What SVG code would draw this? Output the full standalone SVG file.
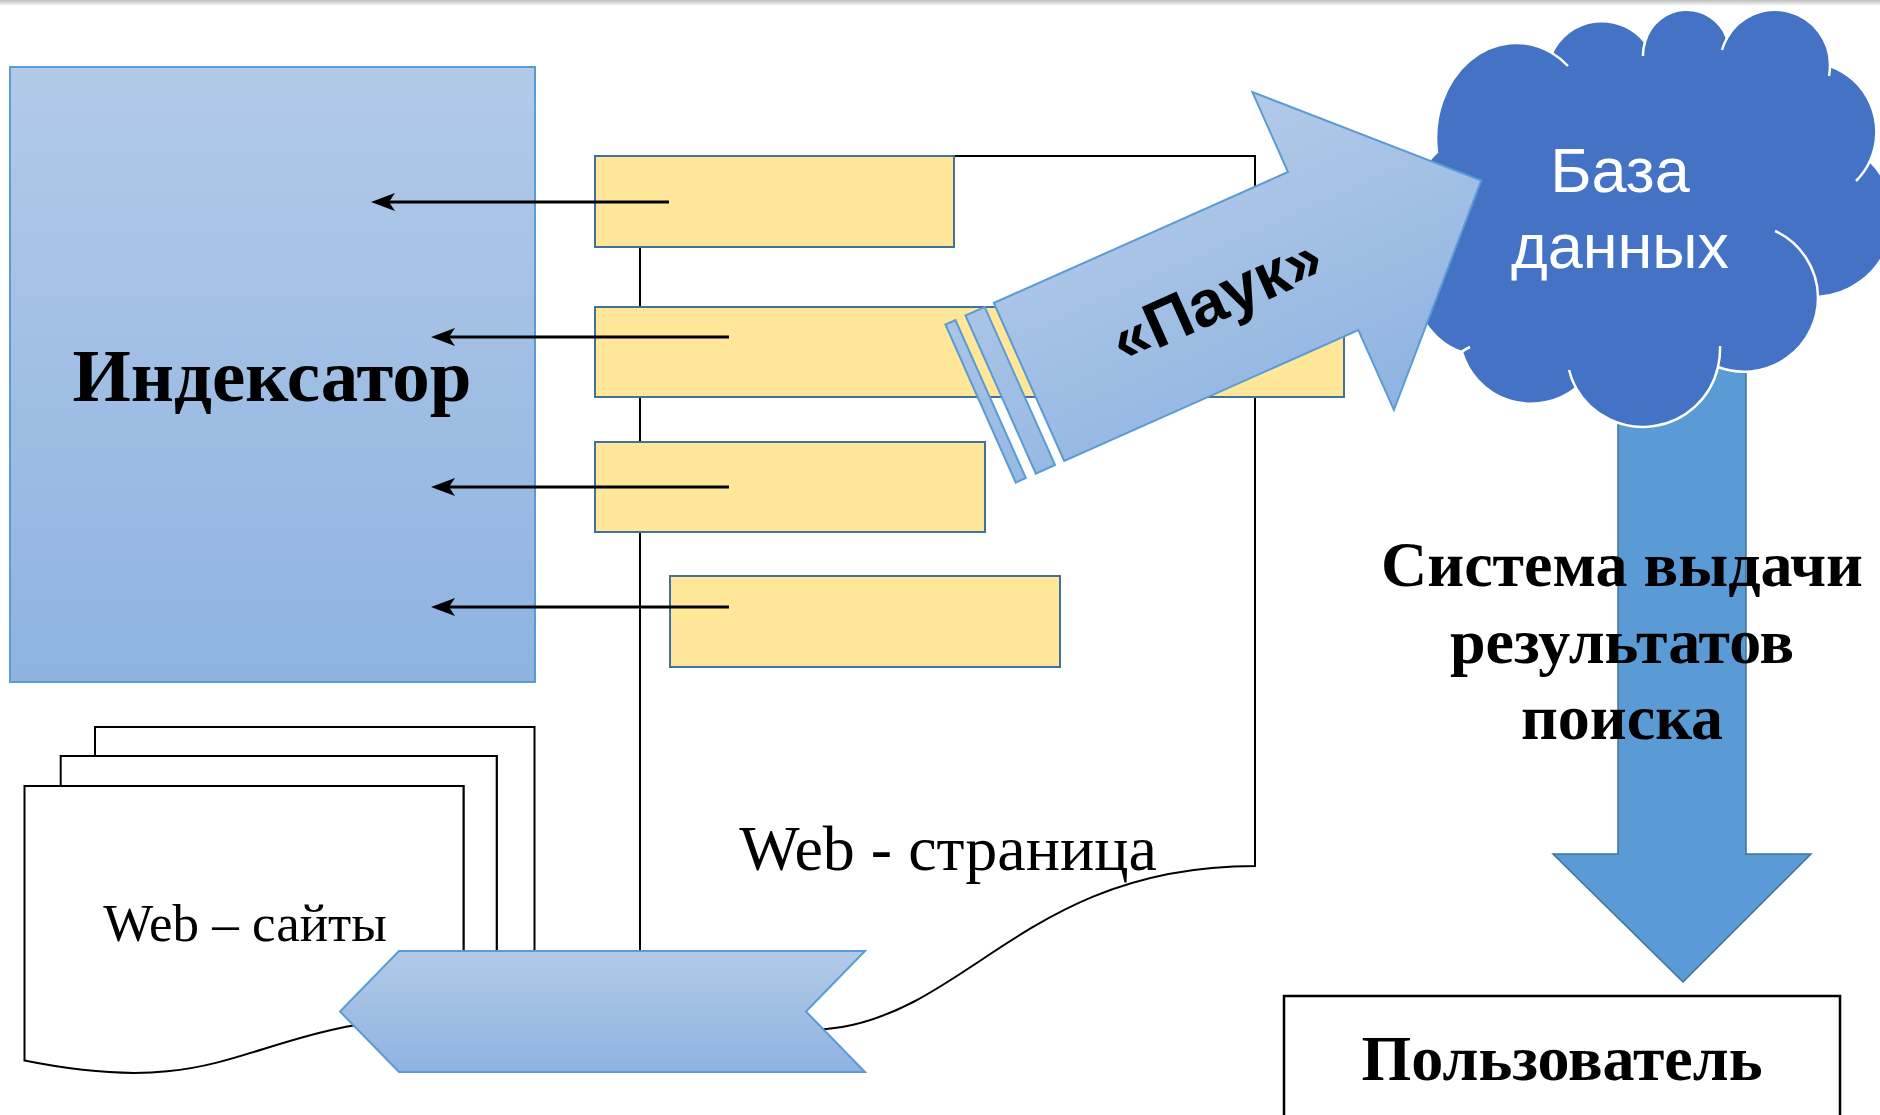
<svg xmlns="http://www.w3.org/2000/svg" width="1880" height="1115" viewBox="0 0 1880 1115">
<defs>
<style>
.ln{fill:none;stroke:#000;stroke-width:2}
.box{fill:#FFE699;stroke:#41719C;stroke-width:2}
.doc{fill:#fff;stroke:#000;stroke-width:2}
.arr{stroke:#000;stroke-width:3;fill:none}
.serif{font-family:"Liberation Serif","Times New Roman",serif;fill:#000}
.sans{font-family:"Liberation Sans",Arial,sans-serif}
.inner{fill:none;stroke:#fff;stroke-width:2.5}
</style>
<linearGradient id="gb" x1="0" y1="0" x2="0" y2="1">
<stop offset="0" stop-color="#B2CAE8"/>
<stop offset="1" stop-color="#8EB3E1"/>
</linearGradient>
<linearGradient id="gs" gradientUnits="userSpaceOnUse" x1="0" y1="-174" x2="0" y2="174">
<stop offset="0" stop-color="#B2CAE8"/>
<stop offset="1" stop-color="#8EB3E1"/>
</linearGradient>
<linearGradient id="gtop" x1="0" y1="0" x2="0" y2="1">
<stop offset="0" stop-color="#BDBDBD"/>
<stop offset="1" stop-color="#FFFFFF"/>
</linearGradient>
<marker id="ah" markerUnits="userSpaceOnUse" markerWidth="30" markerHeight="22" viewBox="-28 -11 30 22" refX="-12" refY="0" orient="auto">
<path d="M0,0 L-24,-9 L-18,0 L-24,9 Z" fill="#000"/>
</marker>
</defs>
<rect x="0" y="0" width="1880" height="6" fill="url(#gtop)"/>

<g id="indexator">
<rect x="10" y="67" width="525" height="615" fill="url(#gb)" stroke="#5B9BD5" stroke-width="2"/>
<text class="serif" x="272" y="401" font-size="75" font-weight="bold" text-anchor="middle">Индексатор</text>
</g>

<g id="web-page">
<path class="doc" d="M640,156 L1255,156 L1255,866 C947.5,866 947.5,1136.5 640,983 Z"/>
<text class="serif" x="948" y="870" font-size="64" text-anchor="middle">Web - страница</text>
</g>

<g id="blocks">
<rect class="box" x="595" y="156" width="359" height="91"/>
<rect class="box" x="595" y="307" width="749" height="90"/>
<rect class="box" x="595" y="442" width="390" height="90"/>
<rect class="box" x="670" y="576" width="390" height="91"/>
</g>

<g id="connectors">
<line class="arr" x1="669" y1="202" x2="383" y2="202" marker-end="url(#ah)"/>
<line class="arr" x1="729" y1="337" x2="443" y2="337" marker-end="url(#ah)"/>
<line class="arr" x1="729" y1="487" x2="443" y2="487" marker-end="url(#ah)"/>
<line class="arr" x1="729" y1="607" x2="443" y2="607" marker-end="url(#ah)"/>
</g>

<g id="web-sites">
<path class="doc" d="M95,756 V727 H534.5 V958 C515,958 496.7,959 496.7,959 V756 Z"/>
<path class="doc" d="M60.7,786 V756 H496.7 V988 C478,988 463.5,989.4 463.5,989.4 V786 Z"/>
<path class="doc" d="M24.5,1060.6 C244,1104.9 244,1016.2 463.5,1016.2 V786 H24.5 Z"/>
<text class="serif" x="245" y="941" font-size="53" text-anchor="middle">Web – сайты</text>
</g>

<g id="chevron">
<polygon points="399,951 865,951 806,1011.5 865,1072 399,1072 340,1011.5" fill="url(#gb)" stroke="#5B9BD5" stroke-width="2"/>
</g>

<g id="output-arrow">
<polygon points="1618,360 1746,360 1746,854 1811,854 1683,982 1553,854 1618,854" fill="#5B9BD5" stroke="#41719C" stroke-width="1.5"/>
</g>

<g id="database">
<path d="M1437,152 A80,95 0 0 1 1552,53 A55,55 0 0 1 1645,42 A43,43 0 0 1 1727,38 A55,55 0 0 1 1830,66 A70,70 0 0 1 1870,161 A80,80 0 0 1 1818,297 A74,74 0 0 1 1718,367 A77,77 0 0 1 1576,388 A72,72 0 0 1 1462,352 A75,110 0 0 1 1437,152 Z" fill="#4472C4" stroke="#fff" stroke-width="2.5"/>
<path class="inner" d="M1552,53 A80,95 0 0 1 1568,66 M1643,56 A43,43 0 0 1 1645,42 M1722,50 A55,55 0 0 1 1727,38 M1830,66 A55,55 0 0 1 1829,76 M1870,161 A70,70 0 0 1 1856,181 M1775,231 A74,74 0 0 1 1818,297 M1720,346 A77,77 0 0 1 1718,367 M1576,388 A77,77 0 0 1 1569,370 M1460,353 A60,60 0 0 1 1470,347"/>
<text class="sans" x="1620" y="192" font-size="63" fill="#fff" text-anchor="middle">База</text>
<text class="sans" x="1620" y="268" font-size="63" fill="#fff" text-anchor="middle">данных</text>
</g>

<g id="spider" transform="translate(1029,382) rotate(-24)">
<rect x="-53" y="-86.5" width="11" height="173" fill="url(#gs)" stroke="#5B9BD5" stroke-width="2"/>
<rect x="-31" y="-86.5" width="21" height="173" fill="url(#gs)" stroke="#5B9BD5" stroke-width="2"/>
<path d="M0,-86.5 L322,-86.5 L322,-174 L495,0 L322,174 L322,86.5 L0,86.5 Z" fill="url(#gs)" stroke="#5B9BD5" stroke-width="2"/>
<text class="sans" x="205" y="22" font-size="65" font-weight="bold" fill="#000" text-anchor="middle">«Паук»</text>
</g>

<g id="output-label">
<text class="serif" x="1622" y="586" font-size="64" font-weight="bold" text-anchor="middle">Система выдачи</text>
<text class="serif" x="1622" y="663" font-size="64" font-weight="bold" text-anchor="middle">результатов</text>
<text class="serif" x="1622" y="739" font-size="64" font-weight="bold" text-anchor="middle">поиска</text>
</g>

<g id="user">
<rect x="1284" y="996" width="556" height="140" fill="#fff" stroke="#000" stroke-width="2.5"/>
<text class="serif" x="1562" y="1080" font-size="64" font-weight="bold" text-anchor="middle">Пользователь</text>
</g>
</svg>
